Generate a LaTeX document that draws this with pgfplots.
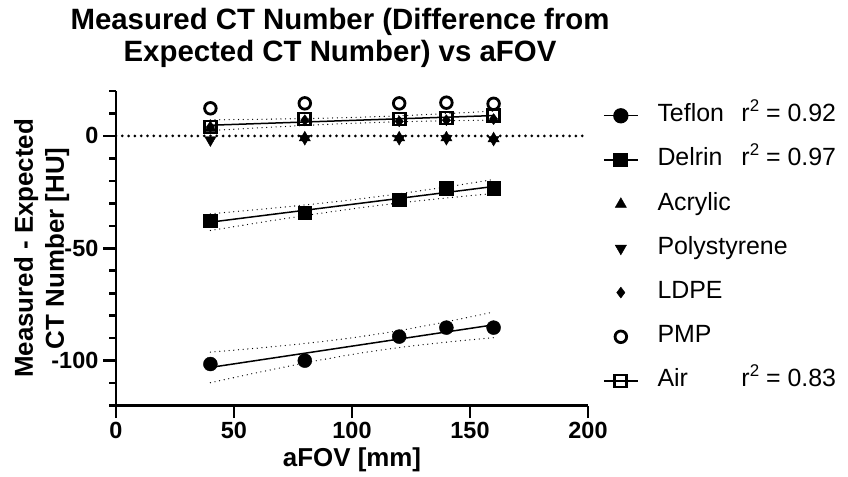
\documentclass[border=0pt]{standalone}
\usepackage{pgfplots}
\pgfplotsset{compat=1.18}
\usepackage{fontspec}
\setmainfont{Liberation Sans}

\newcommand{\rsq}[1]{r\raisebox{0.42em}{\fontsize{17}{17}\selectfont 2} = #1}

\pgfplotsset{
  fitleg/.style={legend image code/.code={%
    \draw[sharp plot, line width=1.3bp, mark repeat=2, mark phase=2]
      plot coordinates {(0bp,0bp) (17bp,0bp) (34bp,0bp)};}},
  markleg/.style={legend image code/.code={%
    \draw[only marks] plot coordinates {(17bp,0bp)};}},
  fitline/.style={black, line width=1.5bp, forget plot},
  band/.style={black, line width=1.3bp, line cap=round,
    dash pattern=on 0bp off 4.7bp, forget plot, smooth},
}

\begin{document}
\begin{tikzpicture}
\path[use as bounding box] (-116bp,-71.4bp) rectangle (732bp,405.6bp);
\begin{axis}[
  name=ax,
  scale only axis,
  width=472bp, height=314.6bp,
  xmin=0, xmax=200, ymin=-120, ymax=20,
  axis x line*=bottom, axis y line*=left,
  axis line style={line width=2.6bp, black},
  xtick={0,50,100,150,200},
  ytick={-100,-50,0},
  minor ytick={-120,-110,...,20},
  tick align=outside,
  major tick length=12.5bp, minor tick length=6.7bp,
  every tick/.style={line width=2.6bp, black},
  /pgf/number format/assume math mode=true,
  ticklabel style={font=\fontsize{23.5}{23.5}\selectfont\bfseries},
  xticklabel style={inner sep=0pt, yshift=-4bp},
  yticklabel style={inner sep=0pt, xshift=-5bp},
  legend style={
    at={(rel axis cs:1,1)}, anchor=north west,
    xshift=15bp, yshift=-13.6bp,
    draw=none, fill=none, inner sep=0pt,
    font=\fontsize{25}{25}\selectfont,
    row sep=22.2bp,
    nodes={inner sep=0pt, text height=17bp, text depth=5bp},
    /tikz/every odd column/.style={column sep=19bp},
  },
  legend cell align=left,
  clip=false,
]
% zero reference
\addplot[forget plot, black, line width=3bp, line cap=round,
  dash pattern=on 0bp off 6.3bp] coordinates {(0,0) (200,0)};

% Teflon: fit with 95% confidence band
\addplot[band] coordinates {(40,-96.21) (60,-94.42) (80,-92.36) (100,-89.84) (120,-86.61) (140,-82.70) (160,-78.37)};
\addplot[band] coordinates {(40,-109.81) (60,-105.30) (80,-101.04) (100,-97.24) (120,-94.15) (140,-91.76) (160,-89.77)};
\addplot[fitline] coordinates {(40,-103.01) (160,-84.07)};
% Delrin: fit with 95% confidence band
\addplot[band] coordinates {(40,-34.67) (60,-32.77) (80,-30.72) (100,-28.43) (120,-25.74) (140,-22.69) (160,-19.40)};
\addplot[band] coordinates {(40,-42.07) (60,-38.69) (80,-35.44) (100,-32.45) (120,-29.84) (140,-27.61) (160,-25.60)};
\addplot[fitline] coordinates {(40,-38.37) (160,-22.50)};
% Air: fit with 95% confidence band
\addplot[band] coordinates {(40,7.16) (60,7.40) (80,7.73) (100,8.21) (120,8.96) (140,9.94) (160,11.06)};
\addplot[band] coordinates {(40,2.38) (60,3.58) (80,4.67) (100,5.61) (120,6.30) (140,6.76) (160,7.06)};
\addplot[fitline] coordinates {(40,4.77) (160,9.06)};

% measured points
\addplot[only marks, black, mark=*, mark size=7bp, fitleg]
  coordinates {(40,-101.5) (80,-100) (120,-89.3) (140,-85.3) (160,-85.3)};
\addlegendentry{\makebox[84bp][l]{Teflon}\rsq{0.92}}
\addplot[only marks, black, mark=square*, mark size=6.8bp, fitleg]
  coordinates {(40,-37.8) (80,-34.1) (120,-28.4) (140,-23.3) (160,-23.3)};
\addlegendentry{\makebox[84bp][l]{Delrin}\rsq{0.97}}
\addplot[only marks, black, mark=triangle*, mark size=6.5bp, markleg]
  coordinates {(40,3.5) (80,-0.8) (120,-0.8) (140,-0.8) (160,-1.2)};
\addlegendentry{Acrylic}
\addplot[only marks, black, mark=triangle*, mark size=6.5bp,
  mark options={rotate=180}, markleg]
  coordinates {(40,-1.8) (80,-1.2) (120,-1.2) (140,-1.2) (160,-1.6)};
\addlegendentry{Polystyrene}
\addplot[only marks, black, mark=diamond*, mark size=5.5bp, markleg]
  coordinates {(40,4) (80,7) (120,6.5) (140,7) (160,7.5)};
\addlegendentry{LDPE}
\addplot[only marks, black, mark=o, mark size=5.8bp,
  mark options={line width=2.8bp}, markleg]
  coordinates {(40,12.3) (80,14.5) (120,14.5) (140,14.8) (160,14.3)};
\addlegendentry{PMP}
\addplot[only marks, black, mark=square, mark size=6bp,
  mark options={line width=2.8bp}, fitleg]
  coordinates {(40,4) (80,7.5) (120,7.5) (140,8) (160,9)};
\addlegendentry{\makebox[84bp][l]{Air}\rsq{0.83}}
\end{axis}

% titles and axis labels
\node[font=\fontsize{29.5}{29.5}\selectfont\bfseries, anchor=base]
  at ([xshift=-12bp, yshift=61bp]ax.north) {Measured CT Number (Difference from};
\node[font=\fontsize{29.5}{29.5}\selectfont\bfseries, anchor=base]
  at ([xshift=-12bp, yshift=29bp]ax.north) {Expected CT Number) vs aFOV};
\node[font=\fontsize{26}{26}\selectfont\bfseries, anchor=base]
  at ([yshift=-61bp]ax.south) {aFOV [mm]};
\node[font=\fontsize{26}{26}\selectfont\bfseries, anchor=base, rotate=90]
  at ([xshift=-83bp]ax.west) {Measured - Expected};
\node[font=\fontsize{26}{26}\selectfont\bfseries, anchor=base, rotate=90]
  at ([xshift=-52bp]ax.west) {CT Number [HU]};
\end{tikzpicture}
\end{document}
